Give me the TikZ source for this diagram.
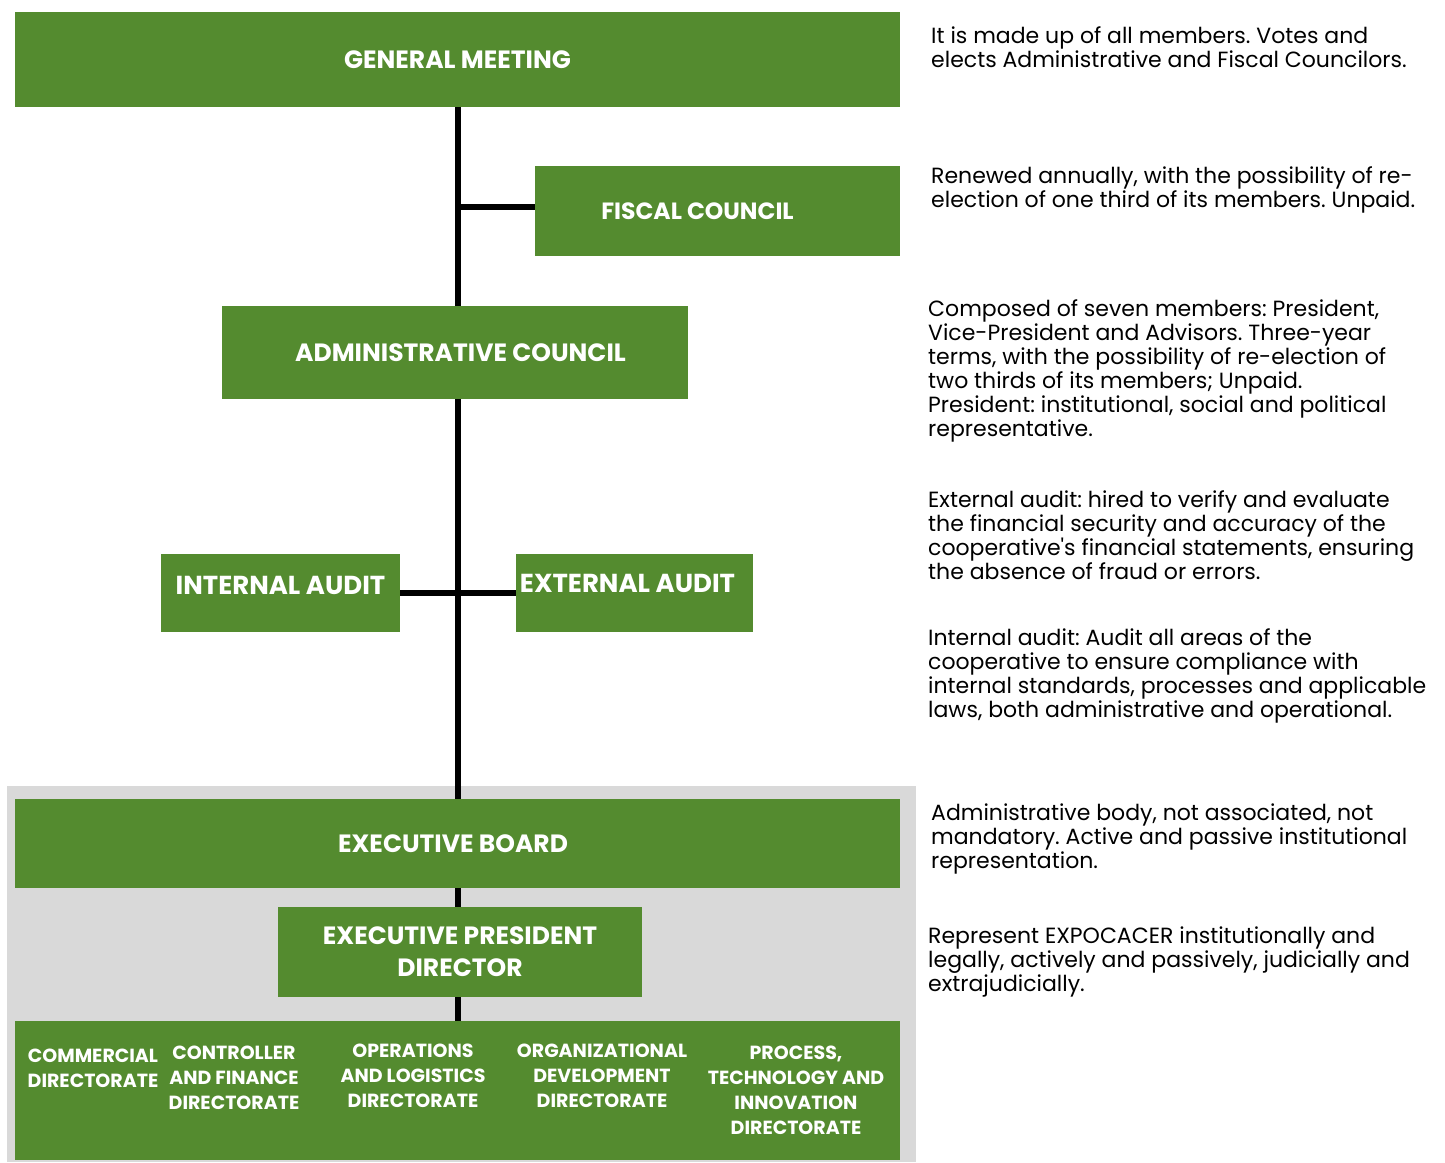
\documentclass[tikz,border=0pt]{standalone}
\usepackage{fontspec}
\setmainfont{Poppins}
\newfontfamily\notefont{Poppins}
\usepackage{xcolor}
\usepackage{tikz}
\usetikzlibrary{positioning, calc, backgrounds}
\frenchspacing
\definecolor{leaf}{HTML}{548B2F}
\definecolor{panelgray}{HTML}{D9D9D9}
\tikzstyle{unit}  = [rectangle, fill=leaf, text=white, text centered, align=center,
                     inner sep=0pt, font=\fontsize{25}{32}\selectfont\bfseries]
\tikzstyle{dept}  = [text=white, align=center, inner sep=0pt, anchor=north,
                     font=\fontsize{19}{25}\selectfont\bfseries]
\tikzstyle{note}  = [anchor=north west, align=left, inner sep=0pt,
                     font=\notefont\fontsize{22}{24}\selectfont]
\tikzstyle{link}  = [line width=6pt]

\begin{document}
\begin{tikzpicture}[x=1pt, y=-1pt]
  \useasboundingbox (0,0) rectangle (1445,1162);

  % organs
  \node[unit, minimum width=885, minimum height=95] (gm) at (457.5,59.5) {GENERAL MEETING};
  \node[unit, minimum width=365, minimum height=90, font=\fontsize{23.5}{30}\selectfont\bfseries]
    (fc) at (717.5,211) {FISCAL COUNCIL\hspace*{40pt}};
  \node[unit, minimum width=466, minimum height=93] (ac) at (455,352.5) {\hspace*{11pt}ADMINISTRATIVE COUNCIL};
  \node[unit, minimum width=239, minimum height=78, text depth=16pt, font=\fontsize{26}{32}\selectfont\bfseries]
    (ia) at (280.5,593) {INTERNAL AUDIT};
  \node[unit, minimum width=237, minimum height=78, text depth=20pt, font=\fontsize{26}{32}\selectfont\bfseries]
    (ea) at (634.5,593) {EXTERNAL AUDIT\hspace*{14pt}};
  \node[unit, minimum width=885, minimum height=89] (eb) at (457.5,843.5) {EXECUTIVE BOARD\hspace*{9pt}};
  \node[unit, minimum width=364, minimum height=90] (epd) at (460,952) {EXECUTIVE PRESIDENT\\DIRECTOR};
  \node[unit, minimum width=885, minimum height=139] (dirs) at (457.5,1090.5) {};

  % directorates
  \node[dept] (com) at (93,1049) {COMMERCIAL\\DIRECTORATE};
  \node[dept] (ctl) at (234,1046) {CONTROLLER\\AND FINANCE\\DIRECTORATE};
  \node[dept] (ops) at (413,1044) {OPERATIONS\\AND LOGISTICS\\DIRECTORATE};
  \node[dept] (org) at (602,1044) {ORGANIZATIONAL\\DEVELOPMENT\\DIRECTORATE};
  \node[dept] (pti) at (796,1046) {PROCESS,\\TECHNOLOGY AND\\INNOVATION\\DIRECTORATE};

  % descriptions
  \node[note] (n1) at (931,26) {It is made up of all members. Votes and\\elects Administrative and Fiscal Councilors.};
  \node[note] (n2) at (931,166) {Renewed annually, with the possibility of re-\\election of one third of its members. Unpaid.};
  \node[note] (n3) at (928,299) {Composed of seven members: President,\\Vice-President and Advisors. Three-year\\terms, with the possibility of re-election of\\two thirds of its members; Unpaid.\\President: institutional, social and political\\representative.};
  \node[note] (n4) at (928,490) {External audit: hired to verify and evaluate\\the financial security and accuracy of the\\cooperative's financial statements, ensuring\\the absence of fraud or errors.};
  \node[note] (n5) at (928,628) {Internal audit: Audit all areas of the\\cooperative to ensure compliance with\\internal standards, processes and applicable\\laws, both administrative and operational.};
  \node[note] (n6) at (931,804) {Administrative body, not associated, not\\mandatory. Active and passive institutional\\representation.};
  \node[note] (n7) at (928,927) {Represent EXPOCACER institutionally and\\legally, actively and passively, judicially and\\extrajudicially.};

  \begin{scope}[on background layer]
    \fill[panelgray] (7,786) rectangle (916,1162);
    \draw[link] (gm.south) -- (eb.north);
    \draw[link] ([yshift=4pt]fc.west) -- ([yshift=4pt]fc.west -| gm.south);
    \draw[link] (ia.east) -- (ea.west);
    \draw[link] (eb.south) -- (eb.south |- epd.north);
    \draw[link] (eb.south |- epd.south) -- (eb.south |- dirs.north);
  \end{scope}
\end{tikzpicture}
\end{document}
